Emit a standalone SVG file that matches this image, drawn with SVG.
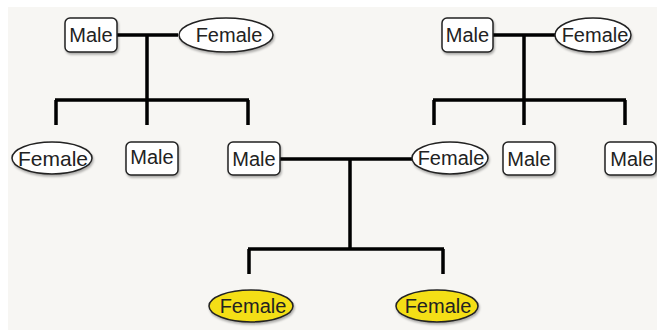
<svg xmlns="http://www.w3.org/2000/svg" width="657" height="330" viewBox="0 0 657 330">
<defs>
<filter id="sh" x="-20%" y="-20%" width="140%" height="150%">
<feDropShadow dx="1" dy="2" stdDeviation="1.2" flood-color="#000" flood-opacity="0.3"/>
</filter>
</defs>
<style>
.bg{fill:#f7f6f3}
.box{fill:#ffffff;stroke:#222;stroke-width:1.5;filter:url(#sh)}
.fem{fill:#ffffff;stroke:#222;stroke-width:1.5;filter:url(#sh)}
.yel{fill:#f4df14;stroke:#222;stroke-width:1.5;filter:url(#sh)}
.t{font-family:"Liberation Sans",Arial,sans-serif;font-size:20px;fill:#222;text-anchor:middle;dominant-baseline:central}
.c{fill:none;stroke:#000;stroke-width:3.5;stroke-linecap:butt}
</style>
<rect x="0" y="0" width="657" height="330" fill="#ffffff"/>
<rect class="bg" x="8" y="7" width="649" height="323"/>
<g id="connectors">
<path class="c" d="M117,35 H178 M147,35 V100 M55,100 H249 M56,100 V125 M147,100 V125 M248,100 V125"/>
<path class="c" d="M493,35 H555 M524,35 V100 M433,100 H626 M434,100 V125 M524,100 V125 M625,100 V125"/>
<path class="c" d="M280,159 H412 M350,159 V249 M248,249 H444 M249,249 V274 M443,249 V274"/>
</g>
<g id="m1"><rect class="box" x="65" y="18" width="52" height="34" rx="5"/><text class="t" x="91" y="35">Male</text></g>
<g id="f1"><ellipse class="fem" cx="226" cy="35" rx="47" ry="17"/><text class="t" x="229" y="35">Female</text></g>
<g id="m2"><rect class="box" x="442" y="18" width="51" height="34" rx="5"/><text class="t" x="467.5" y="35">Male</text></g>
<g id="f2"><ellipse class="fem" cx="593" cy="35" rx="38" ry="17"/><text class="t" x="595" y="35">Female</text></g>
<g id="f3"><ellipse class="fem" cx="52" cy="158" rx="40" ry="16"/><text class="t" x="53" y="158" style="font-size:21px">Female</text></g>
<g id="m3"><rect class="box" x="126" y="142" width="52" height="33" rx="5"/><text class="t" x="152" y="157">Male</text></g>
<g id="m4"><rect class="box" x="228" y="142" width="52" height="33" rx="5"/><text class="t" x="254" y="159">Male</text></g>
<g id="f4"><ellipse class="fem" cx="450" cy="158" rx="38" ry="16"/><text class="t" x="451" y="158">Female</text></g>
<g id="m5"><rect class="box" x="503" y="142" width="52" height="33" rx="5"/><text class="t" x="529" y="159">Male</text></g>
<g id="m6"><rect class="box" x="605" y="142" width="51" height="33" rx="5"/><text class="t" x="632" y="159">Male</text></g>
<g id="f5"><ellipse class="yel" cx="251" cy="306" rx="42" ry="16"/><text class="t" x="253" y="306">Female</text></g>
<g id="f6"><ellipse class="yel" cx="437" cy="306" rx="41" ry="16"/><text class="t" x="438" y="306">Female</text></g>
</svg>
